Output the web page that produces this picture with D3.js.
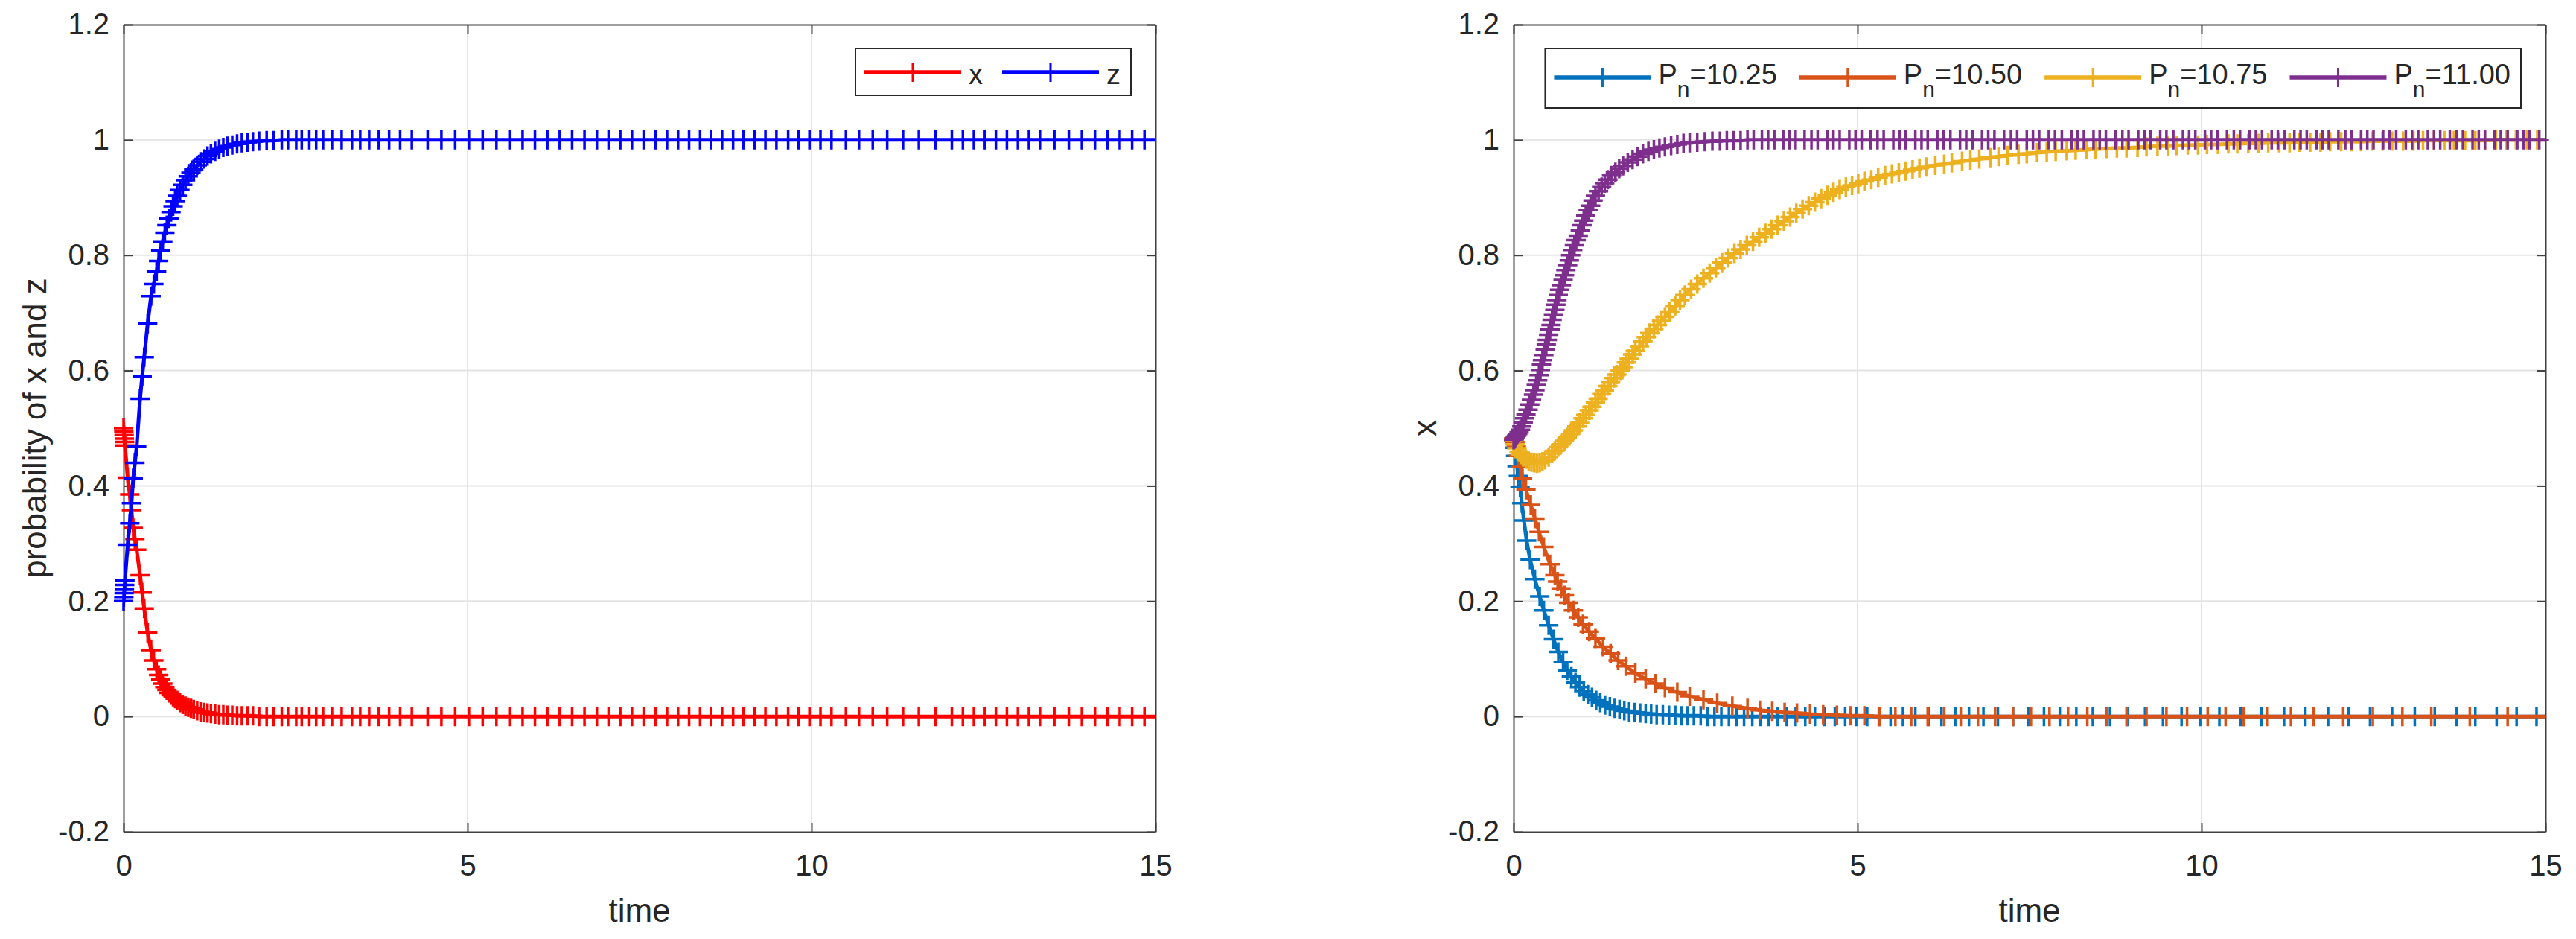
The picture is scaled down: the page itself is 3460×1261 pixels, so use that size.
<!DOCTYPE html>
<html lang="en">
<head>
<meta charset="UTF-8">
<title>x and z over time</title>
<script src="https://d3js.org/d3.v7.min.js"></script>
<style>
  body { margin: 0; background: #fff; }
  svg text { font-family: "Liberation Sans", Arial, Helvetica, sans-serif; fill: #262626; }
</style>
</head>
<body>
<svg id="chart"></svg>
<script>
// ---- data ----
// left panel: [time, x, z] (same solver steps for both)
const leftTrace = [
  [0,0.500,0.200],[0.004,0.494,0.207],[0.008,0.488,0.214],[0.012,0.482,0.221],[0.016,0.476,0.228],[0.02,0.470,0.236],
  [0.06,0.414,0.298],[0.09,0.385,0.335],[0.115,0.358,0.370],[0.14,0.327,0.413],[0.165,0.308,0.440],[0.19,0.289,0.468],
  [0.24,0.245,0.551],[0.27,0.215,0.590],[0.30,0.187,0.623],[0.35,0.145,0.681],[0.40,0.115,0.729],[0.44,0.097,0.750],
  [0.48,0.082,0.772],[0.51,0.072,0.790],[0.54,0.064,0.808],[0.57,0.057,0.824],[0.60,0.051,0.839],[0.63,0.046,0.852],
  [0.66,0.041,0.864],[0.69,0.037,0.875],[0.72,0.034,0.885],[0.75,0.031,0.894],[0.78,0.028,0.903],[0.82,0.024,0.913],
  [0.86,0.021,0.922],[0.90,0.018,0.930],[0.94,0.016,0.937],[0.98,0.014,0.943],[1.02,0.012,0.949],[1.07,0.010,0.956],
  [1.12,0.008,0.962],[1.17,0.007,0.967],[1.22,0.006,0.972],[1.27,0.005,0.976],[1.33,0.004,0.980],[1.39,0.003,0.984],
  [1.45,0.003,0.987],[1.51,0.002,0.989],[1.58,0.002,0.991],[1.65,0.001,0.993],[1.72,0.001,0.995],[1.80,0.001,0.996],
  [1.88,0.001,0.997],[1.97,0,0.998],[2.08,0,0.999],[2.18,0,0.999],[2.30,0,1],[2.39,0,1],[2.51,0,1],[2.59,0,1],
  [2.70,0,1],[2.80,0,1],[2.90,0,1],[3.03,0,1],[3.17,0,1],[3.32,0,1],[3.44,0,1],[3.57,0,1],[3.71,0,1],[3.86,0,1],
  [4.02,0,1],[4.19,0,1],[4.42,0,1],[4.62,0,1],[4.82,0,1],[5.02,0,1],[5.22,0,1],[5.42,0,1],[5.62,0,1],[5.80,0,1],
  [5.98,0,1],[6.16,0,1],[6.34,0,1],[6.52,0,1],[6.70,0,1],[6.88,0,1],[7.05,0,1],[7.22,0,1],[7.39,0,1],[7.56,0,1],
  [7.73,0,1],[7.90,0,1],[8.06,0,1],[8.22,0,1],[8.38,0,1],[8.54,0,1],[8.70,0,1],[8.86,0,1],[9.01,0,1],[9.17,0,1],
  [9.33,0,1],[9.49,0,1],[9.66,0,1],[9.81,0,1],[9.97,0,1],[10.13,0,1],[10.29,0,1],[10.50,0,1],[10.69,0,1],[10.89,0,1],
  [11.10,0,1],[11.33,0,1],[11.56,0,1],[11.80,0,1],[12.04,0,1],[12.20,0,1],[12.36,0,1],[12.52,0,1],[12.68,0,1],[12.84,0,1],
  [13.00,0,1],[13.16,0,1],[13.32,0,1],[13.53,0,1],[13.74,0,1],[13.93,0,1],[14.12,0,1],[14.30,0,1],[14.48,0,1],[14.66,0,1],
  [14.84,0,1],[15.15,0,1]
];

// right panel: [time, x] for each P_n
const run1025 = [
  [0,0.480],[0.015,0.466],[0.03,0.452],[0.05,0.434],[0.07,0.417],[0.094,0.398],[0.12,0.370],[0.15,0.340],[0.19,0.305],[0.24,0.272],
  [0.31,0.238],[0.38,0.208],[0.44,0.184],[0.51,0.158],[0.58,0.134],[0.65,0.112],[0.72,0.094],[0.78,0.080],[0.84,0.069],[0.90,0.059],
  [0.96,0.051],[1.02,0.044],[1.08,0.038],[1.14,0.033],[1.20,0.028],[1.26,0.024],[1.33,0.020],[1.40,0.017],[1.47,0.014],[1.54,0.012],
  [1.61,0.010],[1.68,0.008],[1.76,0.007],[1.84,0.006],[1.92,0.005],[2.00,0.004],[2.08,0.003],[2.17,0.003],[2.26,0.002],[2.35,0.002],
  [2.44,0.001],[2.53,0.001],[2.62,0.001],[2.72,0.001],[2.82,0],[2.92,0],[3.02,0],[3.13,0],[3.24,0],[3.35,0],
  [3.47,0],[3.59,0],[3.71,0],[3.84,0],[3.97,0],[4.10,0],[4.24,0],[4.38,0],[4.52,0],[4.67,0],
  [4.82,0],[4.98,0],[5.14,0],[5.31,0],[5.48,0],[5.66,0],[5.84,0],[6.03,0],[6.22,0],[6.42,0],
  [6.62,0],[6.83,0],[7.04,0],[7.26,0],[7.48,0],[7.71,0],[7.94,0],[8.18,0],[8.42,0],[8.67,0],
  [8.92,0],[9.18,0],[9.44,0],[9.71,0],[9.98,0],[10.26,0],[10.57,0],[10.61,0],[10.87,0],[11.20,0],
  [11.51,0],[11.84,0],[12.14,0],[12.45,0],[12.77,0],[13.10,0],[13.39,0],[13.71,0],[13.98,0],[14.29,0],
  [14.58,0],[14.87,0],[15.15,0]
];
const run1050 = [
  [0,0.482],[0.02,0.476],[0.04,0.469],[0.07,0.452],[0.10,0.433],[0.13,0.413],[0.18,0.393],[0.25,0.367],[0.31,0.343],[0.37,0.320],
  [0.44,0.294],[0.53,0.264],[0.60,0.245],[0.64,0.234],[0.69,0.222],[0.74,0.210],[0.80,0.197],[0.87,0.184],[0.94,0.172],[1.01,0.160],
  [1.10,0.147],[1.19,0.135],[1.30,0.121],[1.41,0.109],[1.52,0.097],[1.63,0.087],[1.77,0.075],[1.92,0.065],[2.06,0.057],[2.20,0.050],
  [2.38,0.042],[2.56,0.035],[2.76,0.029],[2.96,0.023],[3.18,0.018],[3.40,0.014],[3.58,0.011],[3.76,0.009],[3.94,0.007],[4.12,0.006],
  [4.31,0.004],[4.50,0.003],[4.70,0.002],[4.90,0.001],[5.10,0.001],[5.32,0],[5.55,0],[5.78,0],[6.02,0],[6.26,0],
  [6.50,0],[6.75,0],[7.00,0],[7.26,0],[7.52,0],[7.79,0],[8.06,0],[8.34,0],[8.62,0],[8.91,0],
  [9.20,0],[9.49,0],[9.79,0],[10.09,0],[10.35,0],[10.61,0],[10.95,0],[11.30,0],[11.63,0],[12.06,0],
  [12.49,0],[12.92,0],[13.34,0],[13.90,0],[14.45,0],[15.2,0]
];
const run1075 = [
  [0,0.478],[0.02,0.472],[0.05,0.465],[0.08,0.459],[0.11,0.454],[0.14,0.450],[0.18,0.446],[0.22,0.443],[0.26,0.441],[0.30,0.440],
  [0.34,0.439],[0.38,0.440],[0.42,0.442],[0.46,0.445],[0.51,0.450],[0.56,0.456],[0.60,0.461],[0.65,0.467],[0.69,0.472],[0.74,0.478],
  [0.78,0.484],[0.83,0.490],[0.87,0.496],[0.92,0.503],[0.96,0.509],[1.01,0.517],[1.05,0.523],[1.10,0.531],[1.14,0.537],[1.19,0.545],
  [1.23,0.551],[1.28,0.559],[1.32,0.565],[1.37,0.573],[1.41,0.579],[1.46,0.587],[1.50,0.593],[1.55,0.600],[1.59,0.606],[1.64,0.614],
  [1.68,0.620],[1.73,0.628],[1.77,0.634],[1.83,0.642],[1.88,0.650],[1.93,0.658],[1.98,0.665],[2.04,0.672],[2.09,0.679],[2.15,0.686],
  [2.20,0.693],[2.27,0.702],[2.35,0.712],[2.42,0.722],[2.49,0.731],[2.58,0.741],[2.67,0.750],[2.76,0.760],[2.85,0.769],[2.94,0.778],
  [3.03,0.787],[3.12,0.795],[3.21,0.803],[3.30,0.810],[3.39,0.817],[3.48,0.824],[3.57,0.831],[3.66,0.838],[3.75,0.845],[3.84,0.852],
  [3.93,0.859],[4.02,0.866],[4.11,0.873],[4.20,0.880],[4.29,0.886],[4.38,0.892],[4.47,0.898],[4.56,0.904],[4.65,0.909],[4.74,0.914],
  [4.83,0.918],[4.92,0.921],[5.01,0.924],[5.10,0.928],[5.20,0.931],[5.30,0.935],[5.40,0.938],[5.50,0.941],[5.60,0.943],[5.70,0.946],
  [5.80,0.948],[5.90,0.951],[6.00,0.953],[6.13,0.956],[6.26,0.958],[6.37,0.960],[6.52,0.963],[6.64,0.965],[6.77,0.967],[6.93,0.969],
  [7.05,0.971],[7.18,0.973],[7.34,0.975],[7.46,0.976],[7.61,0.978],[7.75,0.979],[7.88,0.980],[8.04,0.981],[8.17,0.982],[8.33,0.983],
  [8.46,0.984],[8.62,0.985],[8.77,0.986],[8.91,0.986],[9.07,0.987],[9.20,0.988],[9.36,0.989],[9.51,0.989],[9.64,0.990],[9.80,0.991],
  [9.95,0.991],[10.08,0.992],[10.24,0.992],[10.39,0.993],[10.52,0.993],[10.68,0.994],[10.83,0.994],[10.97,0.995],[11.13,0.995],[11.28,0.995],
  [11.42,0.996],[11.58,0.996],[11.73,0.996],[11.87,0.997],[12.03,0.997],[12.18,0.997],[12.32,0.997],[12.48,0.998],[12.63,0.998],[12.77,0.998],
  [12.93,0.998],[13.08,0.998],[13.22,0.999],[13.38,0.999],[13.53,0.999],[13.67,0.999],[13.83,0.999],[13.98,0.999],[14.12,0.999],[14.28,1],
  [14.43,1],[14.57,1],[14.73,1],[14.88,1],[15.2,1]
];
const run1100 = [
  [0,0.480],[0.01,0.481],[0.02,0.483],[0.03,0.485],[0.045,0.487],[0.06,0.490],[0.08,0.493],[0.10,0.497],[0.12,0.503],[0.14,0.510],
  [0.16,0.517],[0.18,0.524],[0.21,0.532],[0.235,0.541],[0.26,0.549],[0.29,0.558],[0.31,0.566],[0.33,0.575],[0.35,0.583],[0.37,0.592],
  [0.39,0.601],[0.405,0.610],[0.42,0.618],[0.44,0.627],[0.46,0.636],[0.475,0.645],[0.49,0.653],[0.51,0.662],[0.53,0.671],[0.545,0.679],
  [0.56,0.688],[0.58,0.696],[0.60,0.705],[0.615,0.714],[0.63,0.722],[0.65,0.731],[0.67,0.740],[0.695,0.748],[0.72,0.757],[0.74,0.765],
  [0.76,0.774],[0.785,0.783],[0.81,0.791],[0.83,0.800],[0.86,0.809],[0.885,0.817],[0.91,0.826],[0.94,0.834],[0.97,0.843],[0.995,0.852],
  [1.02,0.860],[1.05,0.869],[1.085,0.878],[1.12,0.886],[1.155,0.895],[1.19,0.903],[1.235,0.911],[1.28,0.918],[1.325,0.925],[1.37,0.931],
  [1.425,0.938],[1.48,0.944],[1.535,0.950],[1.59,0.955],[1.66,0.961],[1.73,0.966],[1.80,0.971],[1.88,0.976],[1.96,0.980],[2.04,0.983],
  [2.12,0.986],[2.20,0.988],[2.29,0.990],[2.38,0.992],[2.47,0.994],[2.56,0.995],[2.67,0.996],[2.78,0.997],[2.89,0.998],[3.00,0.998],
  [3.10,0.999],[3.20,0.999],[3.30,0.999],[3.40,1],[3.49,1],[3.61,1],[3.70,1],[3.79,1],[3.92,1],[4.01,1],
  [4.10,1],[4.23,1],[4.33,1],[4.42,1],[4.56,1],[4.65,1],[4.74,1],[4.88,1],[4.97,1],[5.06,1],
  [5.19,1],[5.29,1],[5.38,1],[5.52,1],[5.61,1],[5.70,1],[5.84,1],[5.93,1],[6.02,1],[6.16,1],
  [6.25,1],[6.35,1],[6.49,1],[6.58,1],[6.67,1],[6.81,1],[6.90,1],[6.99,1],[7.13,1],[7.23,1],
  [7.32,1],[7.46,1],[7.55,1],[7.64,1],[7.78,1],[7.87,1],[7.97,1],[8.11,1],[8.20,1],[8.29,1],
  [8.43,1],[8.52,1],[8.61,1],[8.75,1],[8.85,1],[8.94,1],[9.08,1],[9.17,1],[9.26,1],[9.40,1],
  [9.49,1],[9.59,1],[9.73,1],[9.82,1],[9.91,1],[10.05,1],[10.14,1],[10.23,1],[10.37,1],[10.47,1],
  [10.56,1],[10.70,1],[10.79,1],[10.88,1],[11.02,1],[11.11,1],[11.21,1],[11.35,1],[11.44,1],[11.53,1],
  [11.67,1],[11.76,1],[11.85,1],[11.99,1],[12.09,1],[12.18,1],[12.32,1],[12.41,1],[12.50,1],[12.64,1],
  [12.73,1],[12.83,1],[12.97,1],[13.06,1],[13.15,1],[13.29,1],[13.38,1],[13.47,1],[13.61,1],[13.71,1],
  [13.80,1],[13.94,1],[14.03,1],[14.12,1],[14.26,1],[14.35,1],[14.45,1],[14.59,1],[14.68,1],[14.77,1],
  [14.91,1],[15.1,1]
];

const xTicks = [0, 5, 10, 15];
const yTicks = [-0.2, 0, 0.2, 0.4, 0.6, 0.8, 1, 1.2];
const leftNames = ["x", "z"];
const leftColors = ["#ff0000", "#0000ff"];
const rightNames = ["10.25", "10.50", "10.75", "11.00"];
const rightColors = ["#0072bd", "#d95319", "#edb120", "#7e2f8e"];

// ---- layout ----
const W = 3460, H = 1261;
const plotTop = 33, plotBottom = 1117;
const markR = 13;

const svg = d3.select("#chart").attr("width", W).attr("height", H);

const panels = [
  {
    x0: 166, x1: 1552, ylabel: "probability of x and z",
    series: [
      {data: leftTrace.map(d => [d[0], d[1]]), color: leftColors[0], name: leftNames[0]},
      {data: leftTrace.map(d => [d[0], d[2]]), color: leftColors[1], name: leftNames[1]}
    ],
    legendH: 63, sub: false, itemGap: 26
  },
  {
    x0: 2033, x1: 3419, ylabel: "x",
    series: [run1025, run1050, run1075, run1100].map((d, i) => ({data: d, color: rightColors[i], name: rightNames[i]})),
    legendH: 80, sub: true, itemGap: 30
  }
];

function plusPath(pts, x, y) {
  const [lo, hi] = x.domain();
  return pts.filter(p => p[0] >= lo && p[0] <= hi).map(p => {
    const cx = x(p[0]), cy = y(p[1]);
    return `M${cx - markR},${cy}H${cx + markR}M${cx},${cy - markR}V${cy + markR}`;
  }).join("");
}

function styleAxis(g) {
  g.attr("font-family", null).attr("font-size", null);
  g.select(".domain").attr("stroke", "#404040").attr("stroke-width", 2);
  g.selectAll(".tick line").attr("stroke", "#404040").attr("stroke-width", 2);
  g.selectAll(".tick text").attr("font-size", 40).attr("fill", "#262626");
}

panels.forEach((p, pi) => {
  const x = d3.scaleLinear().domain([0, 15]).range([p.x0, p.x1]);
  const y = d3.scaleLinear().domain([-0.2, 1.2]).range([plotBottom, plotTop]);
  const g = svg.append("g");

  // grid
  g.append("g").selectAll("line").data(yTicks.slice(1, -1)).join("line")
    .attr("x1", p.x0).attr("x2", p.x1)
    .attr("y1", d => y(d)).attr("y2", d => y(d))
    .attr("stroke", "#e4e4e4").attr("stroke-width", 2);
  g.append("g").selectAll("line").data(xTicks.slice(1, -1)).join("line")
    .attr("x1", d => x(d)).attr("x2", d => x(d))
    .attr("y1", plotTop).attr("y2", plotBottom)
    .attr("stroke", "#e4e4e4").attr("stroke-width", 2);

  // axes (ticks point inward, mirrored on top/right)
  g.append("g").attr("transform", `translate(0,${plotBottom})`)
    .call(d3.axisBottom(x).tickValues(xTicks).tickSizeInner(-12).tickSizeOuter(0).tickPadding(31).tickFormat(d => String(d)))
    .call(styleAxis);
  g.append("g").attr("transform", `translate(${p.x0},0)`)
    .call(d3.axisLeft(y).tickValues(yTicks).tickSizeInner(-12).tickSizeOuter(0).tickPadding(19).tickFormat(d => String(d)))
    .call(styleAxis);
  g.append("g").attr("transform", `translate(0,${plotTop})`)
    .call(d3.axisTop(x).tickValues(xTicks).tickSizeInner(-12).tickSizeOuter(0).tickFormat(""))
    .call(styleAxis);
  g.append("g").attr("transform", `translate(${p.x1},0)`)
    .call(d3.axisRight(y).tickValues(yTicks).tickSizeInner(-12).tickSizeOuter(0).tickFormat(""))
    .call(styleAxis);

  // axis labels
  g.append("text").attr("x", (p.x0 + p.x1) / 2).attr("y", 1238)
    .attr("text-anchor", "middle").attr("font-size", 44).text("time");
  g.append("text")
    .attr("transform", `translate(${p.x0 - 104},${(plotTop + plotBottom) / 2}) rotate(-90)`)
    .attr("text-anchor", "middle").attr("font-size", 44).text(p.ylabel);

  // series: line clipped to the box, "+" markers at every solver point
  const clipId = "clip" + pi;
  svg.append("clipPath").attr("id", clipId).append("rect")
    .attr("x", p.x0).attr("y", plotTop).attr("width", p.x1 - p.x0).attr("height", plotBottom - plotTop);
  const line = d3.line().x(d => x(d[0])).y(d => y(d[1]));
  p.series.forEach(s => {
    g.append("path").attr("d", line(s.data)).attr("fill", "none")
      .attr("stroke", s.color).attr("stroke-width", 5).attr("clip-path", `url(#${clipId})`);
    g.append("path").attr("d", plusPath(s.data, x, y)).attr("fill", "none")
      .attr("stroke", s.color).attr("stroke-width", 3.5);
  });

  // legend
  const lg = svg.append("g");
  const box = lg.append("rect").attr("fill", "#fff").attr("stroke", "#262626").attr("stroke-width", 2);
  const lineY = p.sub ? 39 : 32, textY = 48;
  let cx = 12;
  p.series.forEach(s => {
    lg.append("line").attr("x1", cx).attr("x2", cx + 130).attr("y1", lineY).attr("y2", lineY)
      .attr("stroke", s.color).attr("stroke-width", 5.5);
    lg.append("path").attr("d", `M${cx + 65 - markR},${lineY}H${cx + 65 + markR}M${cx + 65},${lineY - markR}V${lineY + markR}`)
      .attr("stroke", s.color).attr("stroke-width", 3).attr("fill", "none");
    cx += 140;
    const t = lg.append("text").attr("x", cx).attr("y", textY).attr("font-size", 38);
    if (p.sub) {
      t.append("tspan").text("P");
      t.append("tspan").attr("dy", 17).attr("font-size", 30).text("n");
      t.append("tspan").attr("dy", -17).text("=" + s.name);
    } else {
      t.text(s.name);
    }
    cx += t.node().getComputedTextLength() + p.itemGap;
  });
  const boxW = cx - p.itemGap + 14;
  box.attr("width", boxW).attr("height", p.legendH);
  lg.attr("transform", `translate(${p.x1 - 33 - boxW},65)`);
});
</script>
</body>
</html>
